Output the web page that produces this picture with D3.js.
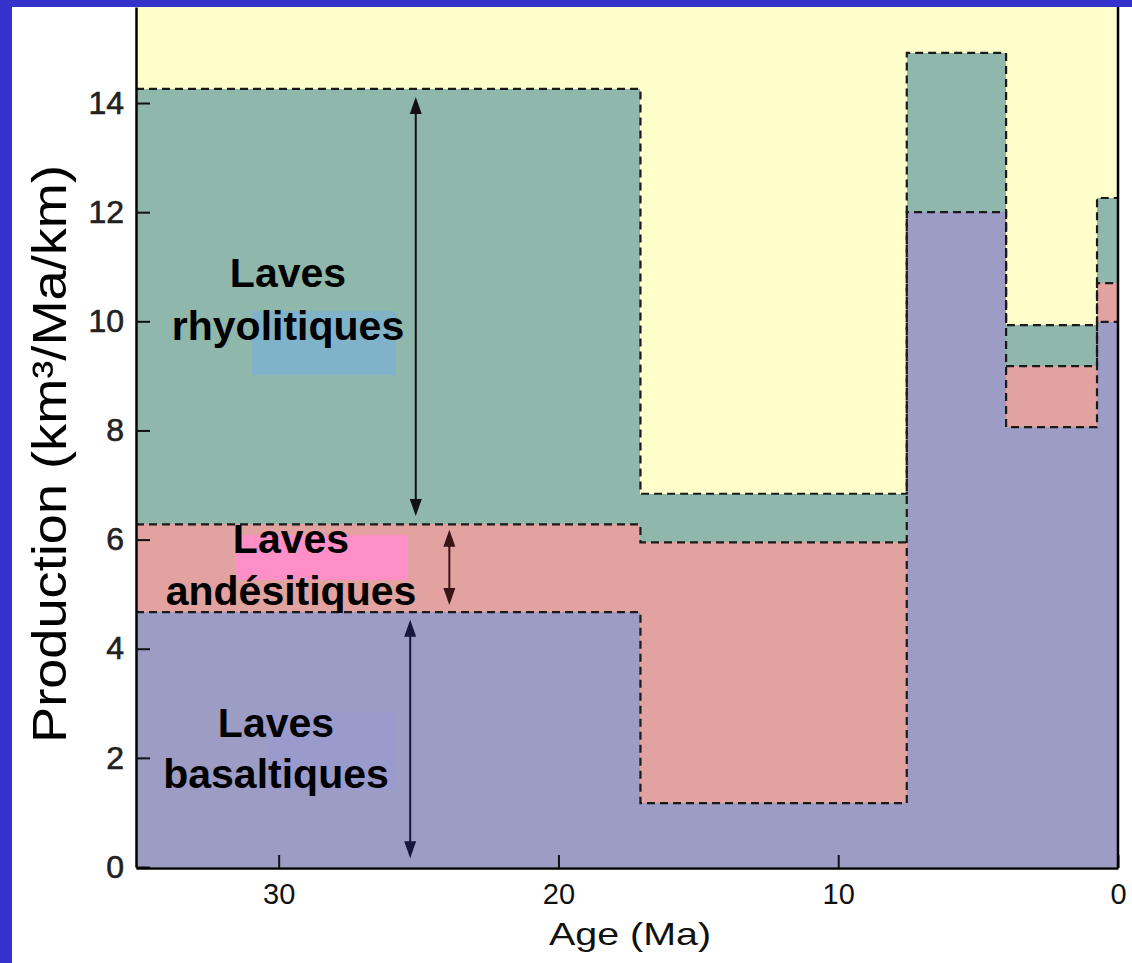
<!DOCTYPE html>
<html>
<head>
<meta charset="utf-8">
<script src="https://cdn.jsdelivr.net/npm/d3@7"></script>
<style>
  html, body { margin: 0; padding: 0; background: #fff; }
  svg { display: block; font-family: "Liberation Sans", Arial, Helvetica, sans-serif; }
</style>
</head>
<body>
<div id="chart"></div>
<script>
// Age boundaries of each time slice (Ma), oldest first
const ageBreaks = [35.1, 17.07, 7.55, 4.0, 0.75, 0];
// Production per lava type in each slice (km3/Ma/km)
const basaltiques = [4.67, 1.17, 12.0, 8.06, 9.99];
const andesitiques = [1.61, 4.78, 0, 1.12, 0.71];
const rhyolitiques = [7.98, 0.89, 2.92, 0.75, 1.56];
const lavaKeys = ['basalt', 'andesite', 'rhyolite'];
const yTicks = [0, 2, 4, 6, 8, 10, 12, 14];
const xTicks = [30, 20, 10, 0];

class StepStackChart {

  constructor(_config) {
    this.config = {
      parentElement: _config.parentElement,
      containerWidth: 1132,
      containerHeight: 963,
      plot: { left: 136, right: 1118, top: 7, bottom: 867 },
      yTop: 15.76,
      colors: { basalt: '#9c9cc4', andesite: '#e2a3a0', rhyolite: '#8fb7ab', bg: '#ffffcc' }
    };
    this.rows = basaltiques.map((b, i) => ({
      start: ageBreaks[i],
      end: ageBreaks[i + 1],
      basalt: b,
      andesite: andesitiques[i],
      rhyolite: rhyolitiques[i]
    }));
    this.initVis();
  }

  initVis() {
    let vis = this;
    const p = vis.config.plot;

    vis.svg = d3.select(vis.config.parentElement)
      .append('svg')
      .attr('width', vis.config.containerWidth)
      .attr('height', vis.config.containerHeight);

    vis.xScale = d3.scaleLinear()
      .domain([ageBreaks[0], 0])
      .range([p.left, p.right]);

    vis.yScale = d3.scaleLinear()
      .domain([0, vis.config.yTop])
      .range([p.bottom, p.top]);

    vis.stacked = d3.stack().keys(lavaKeys)(vis.rows);

    vis.renderVis();
  }

  // split a layer into runs of non-zero thickness, each run as step points
  outlineRuns(layer) {
    const runs = [];
    let cur = null;
    layer.forEach(d => {
      if (d[1] - d[0] > 0) {
        if (!cur) { cur = []; runs.push(cur); }
        cur.push(d);
      } else {
        cur = null;
      }
    });
    return runs.map(run => {
      const pts = run.map(d => [d.data.start, d[1]]);
      const last = run[run.length - 1];
      pts.push([last.data.end, last[1]]);
      return pts;
    });
  }

  renderVis() {
    let vis = this;
    const p = vis.config.plot;
    const c = vis.config.colors;

    // yellow background of the plot
    vis.svg.append('rect')
      .attr('x', p.left).attr('y', p.top)
      .attr('width', p.right - p.left).attr('height', p.bottom - p.top)
      .attr('fill', c.bg);

    // stacked slices
    vis.svg.append('g').selectAll('g')
      .data(vis.stacked)
      .join('g')
        .attr('fill', d => c[d.key])
      .selectAll('rect')
      .data(d => d)
      .join('rect')
        .attr('x', d => vis.xScale(d.data.start))
        .attr('width', d => vis.xScale(d.data.end) - vis.xScale(d.data.start))
        .attr('y', d => vis.yScale(d[1]))
        .attr('height', d => vis.yScale(d[0]) - vis.yScale(d[1]))
        .attr('shape-rendering', 'crispEdges');

    // label boxes (drawn before text)
    const labels = [
      { lines: ['Laves', 'rhyolitiques'], cx: 288, base: [287, 340], box: [252, 311, 396, 375], fill: '#80b3c9' },
      { lines: ['Laves', 'andésitiques'], cx: 291, base: [553, 605], box: [235, 535, 408, 580], fill: '#ff8fc6' },
      { lines: ['Laves', 'basaltiques'], cx: 276, base: [737, 788], box: [268, 712, 396, 790], fill: '#9a9acc' }
    ];
    vis.svg.append('g').selectAll('rect')
      .data(labels)
      .join('rect')
        .attr('x', d => d.box[0]).attr('y', d => d.box[1])
        .attr('width', d => d.box[2] - d.box[0]).attr('height', d => d.box[3] - d.box[1])
        .attr('fill', d => d.fill);

    // dashed step outlines of each cumulative layer
    const line = d3.line()
      .x(d => vis.xScale(d[0]))
      .y(d => vis.yScale(d[1]))
      .curve(d3.curveStepAfter);
    const outlines = vis.stacked.flatMap(layer => vis.outlineRuns(layer));
    vis.svg.append('g').selectAll('path')
      .data(outlines)
      .join('path')
        .attr('d', line)
        .attr('fill', 'none')
        .attr('stroke', '#1a1a1a')
        .attr('stroke-width', 2.2)
        .attr('stroke-dasharray', '8,5');

    // double-headed arrows showing thickness
    const arrows = [
      { age: 25.1, y0: 14.11, y1: 6.43, color: '#111' },
      { age: 23.9, y0: 6.18, y1: 4.80, color: '#3a1414' },
      { age: 25.3, y0: 4.53, y1: 0.16, color: '#16163f' }
    ];
    const ag = vis.svg.append('g');
    arrows.forEach(a => {
      const x = vis.xScale(a.age), ya = vis.yScale(a.y0), yb = vis.yScale(a.y1);
      ag.append('line')
        .attr('x1', x).attr('x2', x)
        .attr('y1', ya + 10).attr('y2', yb - 10)
        .attr('stroke', a.color).attr('stroke-width', 2);
      ag.append('path')
        .attr('d', `M${x},${ya}L${x - 6},${ya + 17}L${x + 6},${ya + 17}Z`)
        .attr('fill', a.color);
      ag.append('path')
        .attr('d', `M${x},${yb}L${x - 6},${yb - 17}L${x + 6},${yb - 17}Z`)
        .attr('fill', a.color);
    });

    // label text
    const lt = vis.svg.append('g')
      .attr('font-weight', 'bold')
      .attr('font-size', 41)
      .attr('text-anchor', 'middle')
      .attr('fill', '#000');
    labels.forEach(l => {
      l.lines.forEach((t, i) => {
        lt.append('text').attr('x', l.cx).attr('y', l.base[i]).text(t);
      });
    });

    // axes
    vis.yAxis = d3.axisLeft(vis.yScale)
      .tickValues(yTicks)
      .tickSize(-14)
      .tickSizeOuter(0)
      .tickPadding(12);
    vis.xAxis = d3.axisBottom(vis.xScale)
      .tickValues(xTicks)
      .tickSize(-13)
      .tickSizeOuter(0)
      .tickPadding(15)
      .tickFormat(d3.format('d'));

    const yg = vis.svg.append('g')
      .attr('transform', `translate(${p.left},0)`)
      .call(vis.yAxis);
    yg.selectAll('text')
      .attr('font-size', 32)
      .attr('font-family', '"Liberation Sans", Arial, sans-serif')
      .attr('fill', '#222')
      .attr('stroke', '#222')
      .attr('stroke-width', 0.6);

    const xg = vis.svg.append('g')
      .attr('transform', `translate(0,${p.bottom + 1})`)
      .call(vis.xAxis);
    xg.selectAll('text')
      .attr('font-size', 29)
      .attr('font-family', '"Liberation Sans", Arial, sans-serif')
      .attr('fill', '#111');

    [yg, xg].forEach(g => {
      g.select('.domain').attr('stroke', '#000').attr('stroke-width', 2.5);
      g.selectAll('.tick line').attr('stroke', '#111').attr('stroke-width', 2);
    });

    // right frame line
    vis.svg.append('line')
      .attr('x1', p.right).attr('x2', p.right)
      .attr('y1', p.top).attr('y2', p.bottom + 1)
      .attr('stroke', '#000').attr('stroke-width', 2.5);

    // axis titles
    vis.svg.append('text')
      .attr('transform', 'translate(66,454) rotate(-90)')
      .attr('text-anchor', 'middle')
      .attr('font-size', 48)
      .attr('textLength', 578)
      .attr('lengthAdjust', 'spacingAndGlyphs')
      .attr('fill', '#000')
      .text('Production (km³/Ma/km)');

    vis.svg.append('text')
      .attr('x', 630).attr('y', 945)
      .attr('text-anchor', 'middle')
      .attr('font-size', 32)
      .attr('textLength', 162)
      .attr('lengthAdjust', 'spacingAndGlyphs')
      .attr('fill', '#111')
      .text('Age (Ma)');

    // blue slide frame
    vis.svg.append('rect')
      .attr('x', 0).attr('y', 0).attr('width', vis.config.containerWidth).attr('height', 7)
      .attr('fill', '#3333cc');
    vis.svg.append('rect')
      .attr('x', 0).attr('y', 0).attr('width', 12).attr('height', vis.config.containerHeight)
      .attr('fill', '#3333cc');
  }
}

new StepStackChart({ parentElement: '#chart' });
</script>
</body>
</html>
